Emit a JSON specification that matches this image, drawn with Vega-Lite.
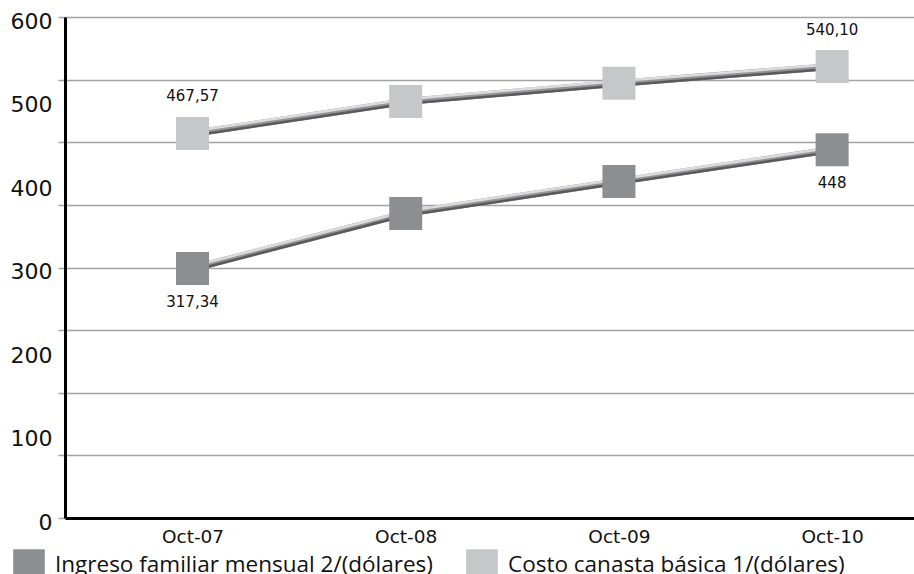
{
  "$schema": "https://vega.github.io/schema/vega-lite/v6.json",
  "width": 849,
  "height": 501,
  "autosize": {"type": "none"},
  "padding": {"left": 65, "top": 17, "right": 0, "bottom": 56},
  "background": "white",
  "config": {"view": {"stroke": null}},
  "data": {"values": [
    {"periodo": "Oct-07", "serie": "Ingreso familiar mensual 2/(dólares)", "valor": 298.8, "etiqueta": "317,34"},
    {"periodo": "Oct-08", "serie": "Ingreso familiar mensual 2/(dólares)", "valor": 364.8, "etiqueta": ""},
    {"periodo": "Oct-09", "serie": "Ingreso familiar mensual 2/(dólares)", "valor": 403.1, "etiqueta": ""},
    {"periodo": "Oct-10", "serie": "Ingreso familiar mensual 2/(dólares)", "valor": 441.1, "etiqueta": "448"},
    {"periodo": "Oct-07", "serie": "Costo canasta básica 1/(dólares)", "valor": 460.5, "etiqueta": "467,57"},
    {"periodo": "Oct-08", "serie": "Costo canasta básica 1/(dólares)", "valor": 498.8, "etiqueta": ""},
    {"periodo": "Oct-09", "serie": "Costo canasta básica 1/(dólares)", "valor": 520.7, "etiqueta": ""},
    {"periodo": "Oct-10", "serie": "Costo canasta básica 1/(dólares)", "valor": 540.7, "etiqueta": "540,10"}
  ]},
  "encoding": {
    "x": {"field": "periodo", "type": "ordinal", "scale": {"type": "point", "padding": 0.491, "align": 0.609},
      "axis": {"title": null, "labelAngle": 0, "ticks": false, "domainColor": "#000", "domainWidth": 3,
        "labelFont": "DejaVu Sans", "labelFontSize": 18.5, "labelColor": "#111", "labelPadding": 9}},
    "y": {"field": "valor", "type": "quantitative", "scale": {"domain": [0, 600], "nice": false}}
  },
  "layer": [
    {
      "mark": {"type": "line", "strokeWidth": 7, "color": "#959597"},
      "encoding": {
        "detail": {"field": "serie"},
        "y": {"field": "valor", "type": "quantitative",
          "axis": {"title": null, "values": [0, 75, 150, 225, 300, 375, 450, 525, 600], "labels": false,
            "grid": true, "gridColor": "#a3a3a3", "gridWidth": 1.5, "ticks": true, "tickSize": 7,
            "tickColor": "#a3a3a3", "tickWidth": 1.5, "domainColor": "#000", "domainWidth": 3, "orient": "left"}}
      }
    },
    {
      "mark": {"type": "line", "strokeWidth": 2.5, "color": "#5a5a5c", "yOffset": 2.2},
      "encoding": {"detail": {"field": "serie"}}
    },
    {
      "mark": {"type": "line", "strokeWidth": 2.5, "color": "#dcdcde", "yOffset": -2.2},
      "encoding": {"detail": {"field": "serie"}}
    },
    {
      "mark": {"type": "square", "size": 1089, "opacity": 1, "filled": true},
      "encoding": {
        "color": {"field": "serie", "type": "nominal",
          "scale": {"domain": ["Ingreso familiar mensual 2/(dólares)", "Costo canasta básica 1/(dólares)"], "range": ["#8d8e92", "#c6c7c9"]},
          "legend": {"title": null, "orient": "none", "legendX": -52, "legendY": 532, "direction": "horizontal",
            "symbolType": "square", "symbolSize": 1000, "symbolOpacity": 1, "symbolStrokeWidth": 0,
            "labelFont": "Open Sans", "labelFontSize": 22.5, "labelColor": "#111", "labelOffset": 10, "labelLimit": 500,
            "columnPadding": 33}}
      }
    },
    {
      "transform": [{"filter": "datum.serie === 'Costo canasta básica 1/(dólares)'"}],
      "mark": {"type": "text", "font": "DejaVu Sans", "fontSize": 15, "color": "#111", "dy": -37},
      "encoding": {"text": {"field": "etiqueta"}}
    },
    {
      "transform": [{"filter": "datum.serie === 'Ingreso familiar mensual 2/(dólares)'"}],
      "mark": {"type": "text", "font": "DejaVu Sans", "fontSize": 15, "color": "#111", "dy": 33},
      "encoding": {"text": {"field": "etiqueta"}}
    },
    {
      "mark": {"type": "rule", "opacity": 0},
      "encoding": {
        "y": {"field": "valor", "type": "quantitative",
          "axis": {"title": null, "values": [0, 100, 200, 300, 400, 500, 600], "grid": false, "ticks": false,
            "domain": false, "labelFont": "DejaVu Sans", "labelFontSize": 22, "labelColor": "#111",
            "labelPadding": 13, "labelOffset": 4, "orient": "left"}}
      }
    }
  ],
  "resolve": {"axis": {"y": "independent"}}
}
